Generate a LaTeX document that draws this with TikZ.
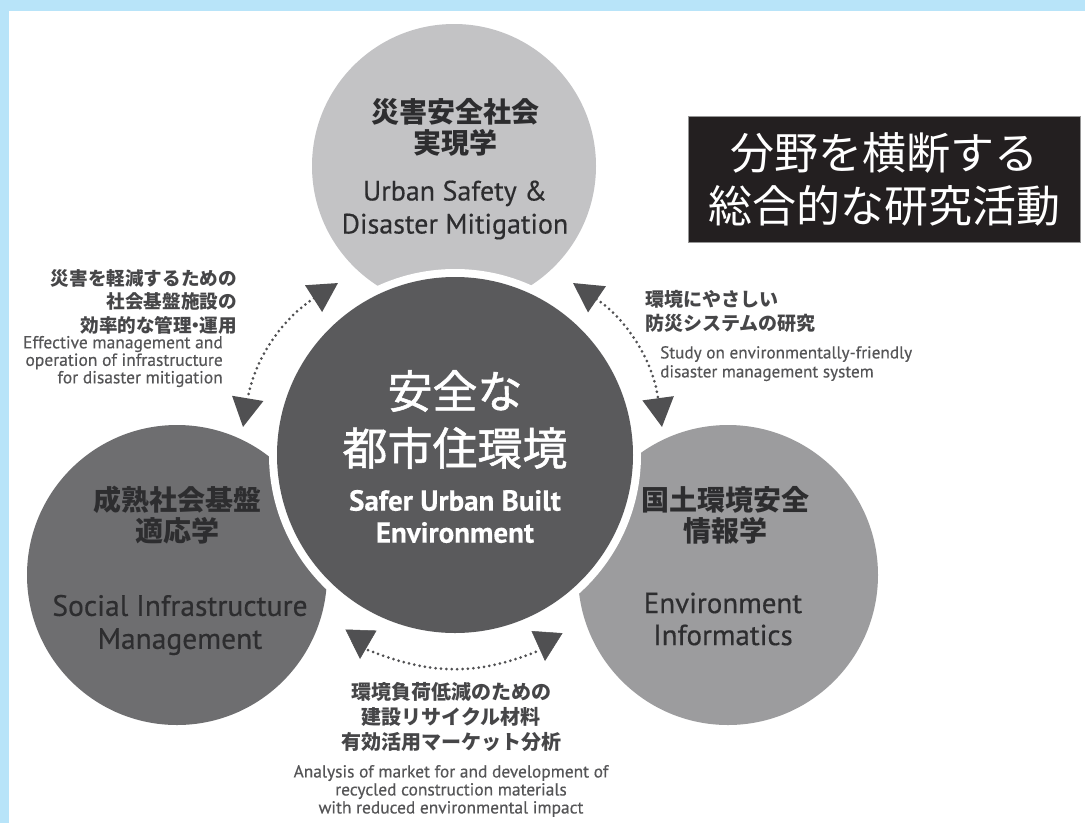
\documentclass[tikz,border=0pt]{standalone}
\usepackage{fontspec}
\usetikzlibrary{arrows.meta,calc}
\newfontfamily\jpfont{Noto Sans CJK JP}
\newfontfamily\jpmedfont{Noto Sans CJK JP}[FakeBold=1.2]
\newfontfamily\enfont{PT Sans}[FakeBold=0.4]
\newcommand\fsz[2]{\fontsize{#1}{#2}\selectfont}

\definecolor{frameblue}{RGB}{184,228,249}
\definecolor{discTop}{RGB}{195,195,197}
\definecolor{discLeft}{RGB}{110,110,112}
\definecolor{discRight}{RGB}{156,156,158}
\definecolor{discMid}{RGB}{90,90,92}
\definecolor{inkDark}{RGB}{45,45,47}
\definecolor{noteJP}{RGB}{70,70,72}
\definecolor{noteEN}{RGB}{85,85,87}
\definecolor{dotgray}{RGB}{80,80,82}
\definecolor{boxblack}{RGB}{35,31,32}
\definecolor{boxedge}{RGB}{150,150,150}

\tikzset{
  disc/.style={circle, inner sep=0pt, draw=none},
  jpbold/.style={font=\jpfont\bfseries\fsz{28}{31}, text=inkDark, align=center, inner sep=0pt},
  enreg/.style={font=\enfont\fsz{28}{33}, text=inkDark, align=center, inner sep=0pt},
  jpmid/.style={font=\jpmedfont\fsz{45}{57}, text=white, align=center, inner sep=0pt},
  enbold/.style={font=\enfont\bfseries\fsz{29}{32}, text=white, align=center, inner sep=0pt},
  jpnote/.style={font=\jpfont\bfseries\fsz{18.6}{23.5}, text=noteJP, inner sep=0pt},
  ennote/.style={font=\enfont\fsz{17.5}{17.5}, text=noteEN, inner sep=0pt},
  tiphead/.tip={Triangle[width=31pt,length=29pt]},
  dotlink/.style={draw=dotgray, line width=3pt, dash pattern=on 0pt off 5.4pt,
    line cap=round, tiphead-tiphead},
  dotline/.style={draw=dotgray, line width=3pt, dash pattern=on 0pt off 5.4pt, line cap=round},
  headonly/.style={draw=dotgray, line width=0.5pt, -tiphead},
  titlebox/.style={fill=boxblack, draw=boxedge, line width=1pt, minimum width=392pt,
    minimum height=126pt, inner sep=0pt, text=white, align=center, font=\jpfont\fsz{44}{53}}
}

\begin{document}
\begin{tikzpicture}[x=1pt,y=-1pt]
  % frame and page
  \useasboundingbox (0,0) rectangle (1085,823);
  \fill[frameblue] (0,0) rectangle (1085,823);
  \fill[white] (9,11) rectangle (1085,823);

  % outer discs
  \node[disc, fill=discTop, minimum size=284pt] (top) at (454,166) {};
  \node[disc, fill=discLeft, minimum size=300pt] (left) at (177,575) {};
  \node[disc, fill=discRight, minimum size=300pt] (right) at (728,575) {};

  % central disc with a white ring
  \node[disc, fill=white, minimum size=372pt] (ring) at (455,455) {};
  \node[disc, fill=discMid, minimum size=356pt] (mid) at (455,455) {};

  % disc labels
  \node[jpbold] (topJ) at (455,127.5) {災害安全社会\\実現学};
  \node[enreg] (topE) at (455,210) {Urban Safety \&\\Disaster Mitigation};
  \node[jpbold] (leftJ) at (177,515.5) {成熟社会基盤\\適応学};
  \node[enreg, font=\enfont\fsz{29.5}{33}] (leftE) at (180,625) {Social Infrastructure\\Management};
  \node[jpbold] (rightJ) at (725,515.5) {国土環境安全\\情報学};
  \node[enreg, font=\enfont\fsz{29}{32}] (rightE) at (723,619) {Environment\\Informatics};
  \node[jpmid] (midJ) at (455,419.5) {安全な\\都市住環境};
  \node[enbold] (midE) at (455,516.5) {Safer Urban Built\\Environment};

  % title box
  \node[titlebox] (title) at (884,179) {分野を横断する\\総合的な研究活動};

  % link notes
  \node[jpnote, anchor=east, align=right] (lnoteJ) at (237,301.5)
    {災害を軽減するための\\社会基盤施設の\\効率的な管理\hspace{-0.3em}・\hspace{-0.3em}運用};
  \node[ennote, anchor=east, align=right] (lnoteE) at (223,361.5)
    {Effective management and\\operation of infrastructure\\for disaster mitigation};
  \node[jpnote, font=\jpfont\bfseries\fsz{19}{23.5}, anchor=west, align=left] (rnoteJ) at (645,311.5)
    {環境にやさしい\\防災システムの研究};
  \node[ennote, font=\enfont\fsz{17.2}{19}, anchor=west, align=left] (rnoteE) at (660,363.6)
    {Study on environmentally-friendly\\disaster management system};
  \node[jpnote, font=\jpfont\bfseries\fsz{20}{25}, align=center] (bnoteJ) at (451,717)
    {環境負荷低減のための\\建設リサイクル材料\\有効活用マーケット分析};
  \node[ennote, font=\enfont\fsz{17.4}{18}, align=center] (bnoteE) at (451,791)
    {Analysis of market for and development of\\recycled construction materials\\with reduced environmental impact};

  % link end points
  \coordinate (la1) at (338,283);
  \coordinate (la2) at (243,427);
  \coordinate (ra1) at (573,283);
  \coordinate (ra2) at (662,427);
  \coordinate (bd1) at (368,650);
  \coordinate (bd2) at (538,651);
  \coordinate (bh1) at (361,630);
  \coordinate (bt1) at (360,659);
  \coordinate (bh2) at (547,632);
  \coordinate (bt2) at (545,661);

  % dotted double links
  \draw[dotlink] (la1) to[bend right=24] (la2);
  \draw[dotlink] (ra1) to[bend left=24] (ra2);
  \draw[dotline] (bd1) to[out=-22,in=202] (bd2);
  \draw[headonly] (bh1) -- (bt1);
  \draw[headonly] (bh2) -- (bt2);
\end{tikzpicture}
\end{document}
